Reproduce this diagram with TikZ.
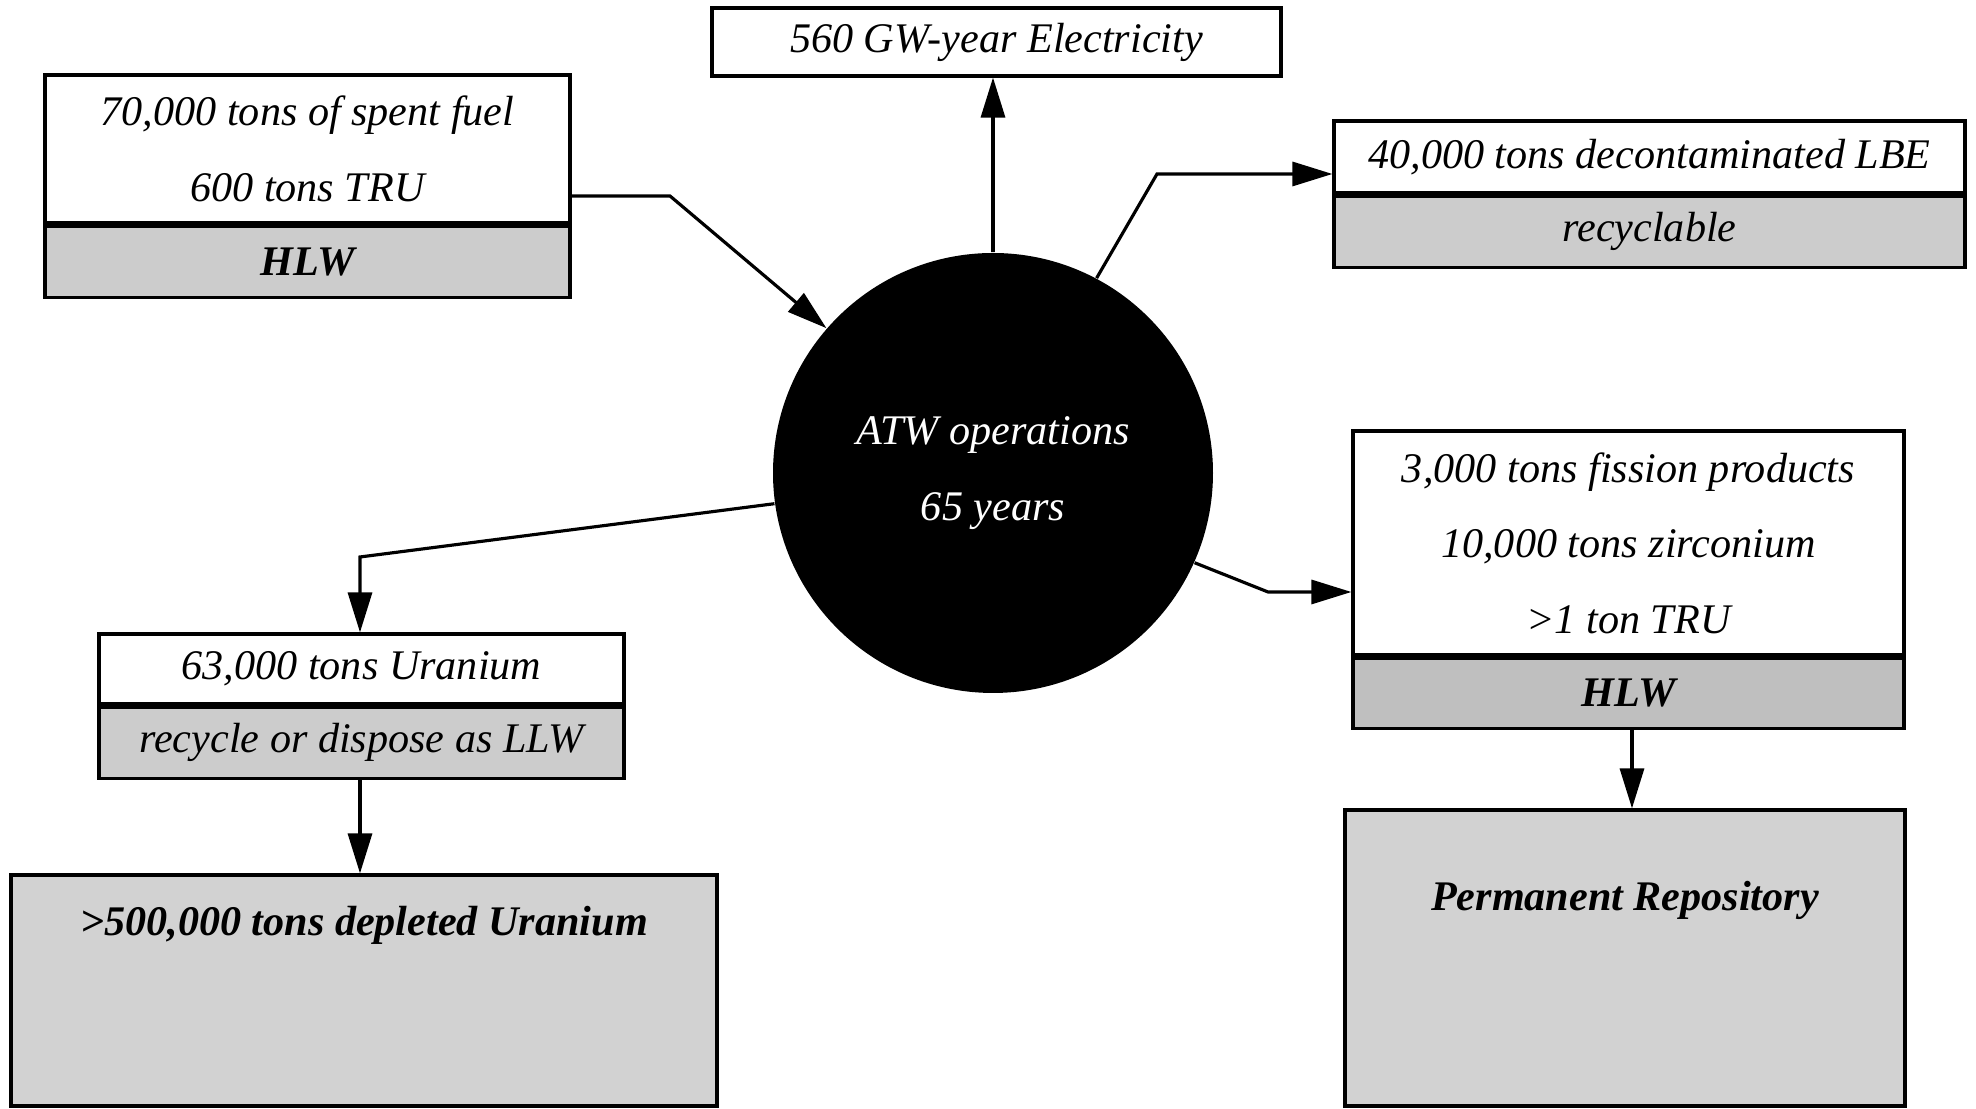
\documentclass[tikz,border=0pt]{standalone}
\usepackage{fontspec}
\setmainfont{Liberation Serif}
\usetikzlibrary{positioning,arrows.meta}

\begin{document}
\begin{tikzpicture}[font=\fontsize{12}{21.5}\selectfont\itshape,
    box/.style={draw, line width=0.9pt, fill=white, align=center, inner sep=0pt},
    band/.style={box, fill=gray!40},
    store/.style={box, fill=gray!35},
    flow/.style={line width=0.9pt, -{Triangle[length=4mm,width=2.4mm]}}]
    \useasboundingbox (0,0) rectangle (19.76,11.09);
    % reactor
    \node [circle, fill=black, text=white, minimum size=4.4cm, align=center] (atw) at (9.93,6.36)
      {ATW operations\\65 years};
    % inputs and outputs
    \node [box, minimum width=5.69cm, minimum height=0.68cm] (elec) at (9.965,10.67) {560 GW-year Electricity};
    \node [box, minimum width=5.25cm, minimum height=1.48cm] (fuel) at (3.075,9.60)
      {70,000 tons of spent fuel\\600 tons TRU};
    \node [band, minimum width=5.25cm, minimum height=0.71cm, below=0pt of fuel] (fuelhlw) {\bfseries HLW};
    \node [box, minimum width=6.31cm, minimum height=0.72cm] (lbe) at (16.495,9.52) {40,000 tons decontaminated LBE};
    \node [band, minimum width=6.31cm, minimum height=0.71cm, below=0pt of lbe] (lberec) {recyclable};
    \node [box, minimum width=5.51cm, minimum height=2.24cm] (fission) at (16.285,5.66)
      {3,000 tons fission products\\10,000 tons zirconium\\>1 ton TRU};
    \node [band, fill=gray!50, minimum width=5.51cm, minimum height=0.70cm, below=0pt of fission] (fishlw) {\bfseries HLW};
    \node [box, minimum width=5.25cm, minimum height=0.70cm] (uranium) at (3.615,4.40) {63,000 tons Uranium};
    \node [band, minimum width=5.25cm, minimum height=0.71cm, below=0pt of uranium] (ullw) {recycle or dispose as LLW};
    \node [store, minimum width=7.06cm, minimum height=2.31cm,
      label={[anchor=center, yshift=-0.52cm]north:{\bfseries >500,000 tons depleted Uranium}}] (depleted) at (3.64,1.185) {};
    \node [store, minimum width=5.60cm, minimum height=2.96cm,
      label={[anchor=center, yshift=-0.92cm]north:{\bfseries Permanent Repository}}] (repo) at (16.25,1.51) {};
    % connectors
    \coordinate (fuelbend) at (6.70,9.13);
    \coordinate (lbebend) at (11.57,9.35);
    \coordinate (fisbend) at (12.68,5.17);
    \coordinate (ubend) at (3.60,5.52);
    \draw [flow] ([yshift=-4.7mm]fuel.east) -- (fuelbend) -- (atw.139);
    \draw [flow] (atw.north) -- (atw.north |- elec.south);
    \draw [flow] (atw.62) -- (lbebend) -- (lbebend -| lbe.west);
    \draw [flow] (atw.-24) -- (fisbend) -- (fisbend -| fission.west);
    \draw [flow] (atw.188) -- (ubend) -- (ubend |- uranium.north);
    \draw [flow] (ullw.south -| ubend) -- (ubend |- depleted.north);
    \draw [flow] ([xshift=0.35mm]fishlw.south) -- ([xshift=0.35mm]fishlw.south |- repo.north);
\end{tikzpicture}
\end{document}
